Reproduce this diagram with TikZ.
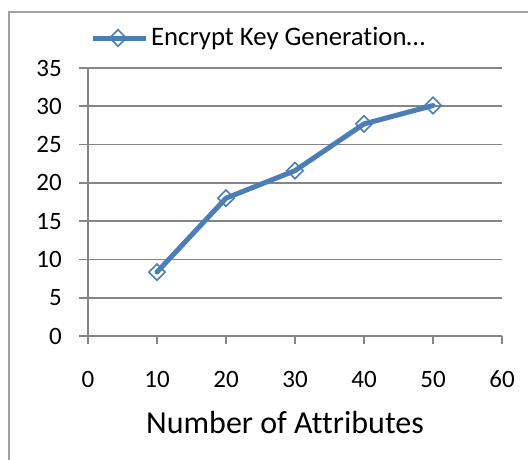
\documentclass[tikz,border=0pt]{standalone}
\usepackage{fontspec}
\setmainfont[Ligatures=NoCommon]{Carlito}
\usetikzlibrary{shapes.geometric}
\definecolor{series}{RGB}{74,126,187}
\definecolor{axisgray}{RGB}{134,134,134}
\definecolor{framegray}{RGB}{160,160,160}
\tikzset{
  gridline/.style={draw=axisgray, line width=1.6pt},
  axisline/.style={draw=axisgray, line width=1.6pt},
  ticklabel/.style={inner sep=0pt, font=\fontsize{25}{30}\selectfont},
  seriesline/.style={draw=series, line width=5pt, line join=round, line cap=round},
  marker/.style={diamond, draw=series, line width=1.6pt, inner sep=0pt,
                 minimum width=17pt, minimum height=17pt},
}
\begin{document}
\begin{tikzpicture}[x=1pt, y=-1pt]
  \useasboundingbox (0,0) rectangle (528,459);
  \fill[white] (0,0) rectangle (528,459);
  % chart frame
  \draw[framegray, line width=2pt] (9,462) -- (9,12) -- (531,12);

  % horizontal grid and value axis labels
  \foreach \v in {5,10,...,35} {
    \draw[gridline] (79,{336-7.657*\v}) -- (502,{336-7.657*\v});
  }
  \foreach \v in {0,5,...,35} {
    \draw[axisline] (79,{336-7.657*\v}) -- (88,{336-7.657*\v});
    \node[ticklabel, anchor=base east] (ylab\v) at (62,{344-7.657*\v}) {\v};
  }
  % axes
  \coordinate (origin) at (88,336);
  \coordinate (ytop) at (88,68);
  \coordinate (xend) at (502,336);
  \draw[axisline] (ytop) -- (origin) -- (xend);
  \foreach \i in {0,...,6} {
    \pgfmathtruncatemacro{\lab}{10*\i}
    \draw[axisline] ({88+69*\i},336) -- ({88+69*\i},344);
    \node[ticklabel, anchor=base] (xlab\i) at ({88+69*\i},387) {\lab};
  }
  \node[inner sep=0pt, anchor=base, font=\fontsize{32}{37}\selectfont] (xtitle) at (285,433) {Number of Attributes};

  % data series
  \coordinate (p1) at ({88+6.9*10},{336-7.657*8.35});
  \coordinate (p2) at ({88+6.9*20},{336-7.657*18.0});
  \coordinate (p3) at ({88+6.9*30},{336-7.657*21.6});
  \coordinate (p4) at ({88+6.9*40},{336-7.657*27.7});
  \coordinate (p5) at ({88+6.9*50},{336-7.657*30.1});
  \draw[seriesline] (p1) -- (p2) -- (p3) -- (p4) -- (p5);
  \foreach \p in {1,...,5} {
    \node[marker] (m\p) at (p\p) {};
  }

  % legend
  \coordinate (lgA) at (93,38);
  \coordinate (lgB) at (146,38);
  \draw[seriesline, line cap=butt] (lgA) -- (lgB);
  \node[marker] (lgmark) at (118,38) {};
  \node[inner sep=0pt, anchor=base west, font=\fontsize{26.7}{31}\selectfont] (lgtext) at (151,45) {Encrypt Key Generation…};
\end{tikzpicture}
\end{document}
